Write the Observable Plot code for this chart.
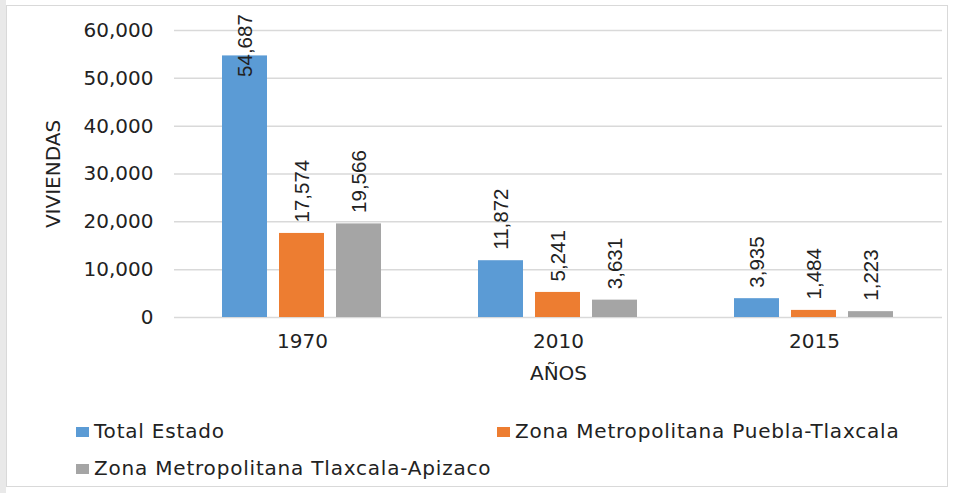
<!DOCTYPE html>
<html>
<head>
<meta charset="utf-8">
<script src="https://cdn.jsdelivr.net/npm/d3@7"></script>
<script src="https://cdn.jsdelivr.net/npm/@observablehq/plot@0.6"></script>
<style>
  html, body { margin: 0; padding: 0; background: #fff; }
  #wrap { position: relative; width: 955px; height: 493px; overflow: hidden; font-family: "DejaVu Sans", sans-serif; color: #222; }
  #shadow { position: absolute; left: 0; top: 0; width: 6px; height: 493px; background: #e9e9e9; }
  #frame { position: absolute; left: 6px; top: 5px; width: 942px; height: 482px; border: 1px solid #d9d9d9; box-sizing: border-box; }
  #chart { position: absolute; left: 0; top: 0; }
  .leg { position: absolute; font-size: 20px; letter-spacing: 0.8px; white-space: nowrap; line-height: 22px; }
  .sw { display: inline-block; width: 13px; height: 10px; margin-right: 5px; vertical-align: 1px; }
</style>
</head>
<body>
<div id="wrap">
  <div id="shadow"></div>
  <div id="frame"></div>
  <div id="chart"></div>
  <div id="legend"></div>
</div>
<script>
const years = ["1970", "2010", "2015"];
const series = ["Total Estado", "Zona Metropolitana Puebla-Tlaxcala", "Zona Metropolitana Tlaxcala-Apizaco"];
const totalEstado = [54687, 11872, 3935];
const zmPueblaTlaxcala = [17574, 5241, 1484];
const zmTlaxcalaApizaco = [19566, 3631, 1223];
const colors = ["#5b9bd5", "#ed7d31", "#a5a5a5"];
const yTicks = [0, 10000, 20000, 30000, 40000, 50000, 60000];
const yLabel = "VIVIENDAS";
const xLabel = "AÑOS";
// labels of very tall bars are kept inside the chart (as the spreadsheet does)
const labelCeiling = 48000;

const seriesValues = [totalEstado, zmPueblaTlaxcala, zmTlaxcalaApizaco];
const data = [];
years.forEach((yr, i) => series.forEach((s, j) => data.push({year: yr, series: s, value: seriesValues[j][i]})));

const fmt = d3.format(",");

const chart = Plot.plot({
  width: 955,
  height: 400,
  marginLeft: 174,
  marginRight: 13,
  marginTop: 30,
  marginBottom: 83,
  style: {fontFamily: "DejaVu Sans, sans-serif", fontSize: "20px", color: "#222", background: "transparent"},
  fx: {domain: years, padding: 0, tickSize: 0, tickPadding: 16, label: xLabel, labelAnchor: "center", labelOffset: 62},
  x: {domain: series, paddingInner: 0.21, paddingOuter: 0.85, axis: null},
  y: {domain: [0, 60000], ticks: yTicks, tickSize: 0, tickPadding: 21, tickFormat: fmt, label: yLabel, labelArrow: "none", labelAnchor: "center", labelOffset: 129},
  color: {domain: series, range: colors},
  marks: [
    Plot.ruleY(yTicks, {stroke: "#d9d9d9", strokeWidth: 1.5}),
    Plot.barY(data, {fx: "year", x: "series", y: "value", fill: "series"}),
    Plot.text(data, {
      fx: "year", x: "series",
      y: d => Math.min(d.value, labelCeiling),
      text: d => fmt(d.value),
      rotate: -90, textAnchor: "start", dy: -11,
      fontFamily: "Liberation Sans, Arial, sans-serif", fontSize: 20.5, fill: "#222"
    })
  ]
});
document.getElementById("chart").appendChild(chart);

// legend
const legendPos = [{left: 76, top: 420}, {left: 497, top: 420}, {left: 76, top: 457}];
const legend = document.getElementById("legend");
series.forEach((s, i) => {
  const div = document.createElement("div");
  div.className = "leg";
  div.style.left = legendPos[i].left + "px";
  div.style.top = legendPos[i].top + "px";
  const sw = document.createElement("span");
  sw.className = "sw";
  sw.style.background = colors[i];
  div.appendChild(sw);
  div.appendChild(document.createTextNode(s));
  legend.appendChild(div);
});
</script>
</body>
</html>
